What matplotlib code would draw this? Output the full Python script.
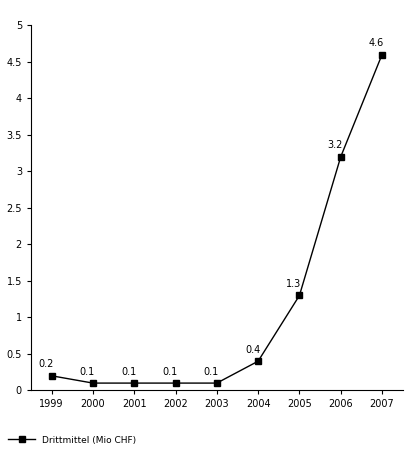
import matplotlib
matplotlib.use("Agg")
import matplotlib.pyplot as plt

years = ["1999","2000","2001","2002","2003","2004","2005","2006","2007"]
values = [0.2,0.1,0.1,0.1,0.1,0.4,1.3,3.2,4.6]
labels = ["0.2","0.1","0.1","0.1","0.1","0.4","1.3","3.2","4.6"]
yticks = [0,0.5,1,1.5,2,2.5,3,3.5,4,4.5,5]
yticklabels = ["0","0.5","1","1.5","2","2.5","3","3.5","4","4.5","5"]

fig = plt.figure(figsize=(4.13,4.62), dpi=100)
ax = fig.add_axes([0.075, 0.155, 0.9, 0.79])
x = list(range(len(years)))
ax.plot(x, values, color="black", lw=1, marker="s", ms=5, label="Drittmittel (Mio CHF)")
for xi, v, l in zip(x, values, labels):
    ax.annotate(l, (xi, v), xytext=(-4, 6), textcoords="offset points", ha="center", fontsize=7)
ax.set_xlim(-0.5, 8.5)
ax.set_ylim(0, 5)
ax.set_xticks(x)
ax.set_xticklabels(years, fontsize=7)
ax.set_yticks(yticks)
ax.set_yticklabels(yticklabels, fontsize=7)
ax.spines["top"].set_visible(False)
ax.spines["right"].set_visible(False)
ax.tick_params(length=3)
fig.legend(loc="lower left", bbox_to_anchor=(0.0, 0.02), frameon=False, fontsize=6.5, handlelength=3)
fig.savefig("out.png", dpi=100)
